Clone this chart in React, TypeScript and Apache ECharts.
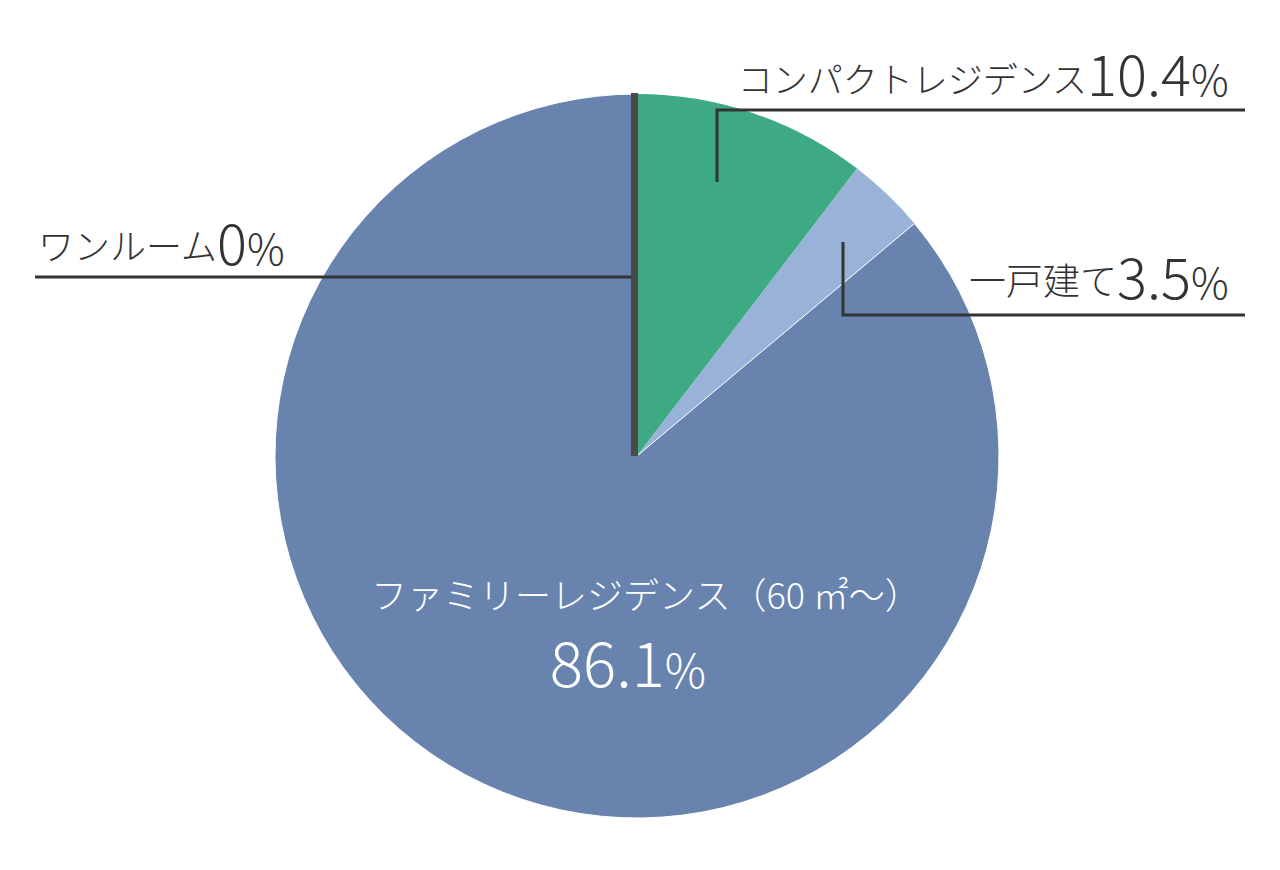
import React, { useEffect, useRef } from "react";
import * as echarts from "echarts";

const names = ["ワンルーム", "コンパクトレジデンス", "一戸建て", "ファミリーレジデンス"];
const values = [0, 10.4, 3.5, 86.1];
const colors = ["#4a4a4a", "#3eaa84", "#98b3d7", "#6783ae"];
const familyNote = "（60 ㎡～）";

const FONT = '"Noto Sans CJK JP", "Noto Sans", sans-serif';
const INK = "#333333";

function fmt(v: number) {
  return (Number.isInteger(v) ? String(v) : v.toFixed(1));
}

export default function App() {
  const ref = useRef<HTMLDivElement>(null);
  useEffect(() => {
    if (!ref.current) return;
    const chart = echarts.init(ref.current, undefined, { renderer: "svg" });

    const nameText = (text: string, x: number, y: number, size: number, fill = INK, align = "right") => ({
      type: "text",
      z: 120,
      style: {
        text,
        x,
        y,
        fill,
        font: `300 ${size}px ${FONT}`,
        textAlign: align,
        textVerticalAlign: "middle",
      },
    });
    const numText = (v: number, x: number, y: number, big: number, small: number, fill = INK, align = "left") => ({
      type: "text",
      z: 120,
      style: {
        text: `{n|${fmt(v)}}{p|%}`,
        x,
        y,
        fill,
        textAlign: align,
        textVerticalAlign: "middle",
        rich: {
          n: { fontSize: big, fontFamily: FONT, fontWeight: 300, fill, verticalAlign: "bottom" },
          p: { fontSize: small, fontFamily: FONT, fontWeight: 300, fill, verticalAlign: "bottom" },
        },
      },
    });
    const seg = (points: number[][]) => ({
      type: "polyline",
      z: 110,
      shape: { points },
      style: { stroke: INK, lineWidth: 3, fill: null },
    });

    chart.setOption({
      animation: false,
      series: [
        {
          type: "pie",
          center: [637, 456],
          radius: [0, 362],
          startAngle: 90,
          clockwise: true,
          label: { show: false },
          labelLine: { show: false },
          silent: true,
          data: names.map((n, i) => ({
            name: n,
            value: values[i],
            itemStyle: {
              color: colors[i],
              borderColor: i === 3 ? "#ffffff" : colors[i],
              borderWidth: i === 3 ? 1 : 0,
            },
          })),
        },
      ],
      graphic: [
        {
          type: "line",
          z: 200,
          shape: { x1: 634.5, y1: 93, x2: 634.5, y2: 456 },
          style: { stroke: "#4a4a4a", lineWidth: 7 },
        },
        seg([[35, 277], [631, 277]]),
        seg([[717, 182], [717, 110], [1245, 110]]),
        seg([[843, 242], [843, 315], [1245, 315]]),
        nameText(names[0], 217, 244, 36),
        numText(values[0], 217, 240, 56, 42),
        nameText(names[1], 1087, 77, 35),
        numText(values[1], 1087, 71, 56, 42),
        nameText(names[2], 1117, 279, 37),
        numText(values[2], 1117, 274, 56, 42),
        nameText(names[3] + familyNote, 646, 593, 36, "#ffffff", "center"),
        numText(values[3], 628, 660, 62, 46, "#ffffff", "center"),
      ],
    });
    return () => chart.dispose();
  }, []);
  return (
    <div
      ref={ref}
      style={{ position: "fixed", left: 0, top: 0, width: 1280, height: 870, background: "#ffffff" }}
    />
  );
}
